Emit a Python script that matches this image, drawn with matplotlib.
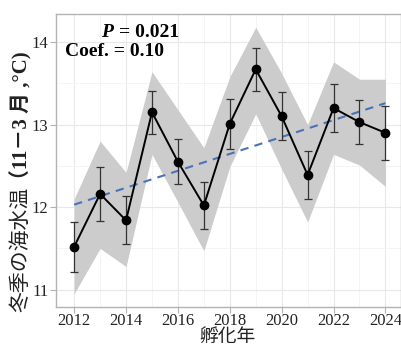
import matplotlib
matplotlib.use('Agg')
import matplotlib.pyplot as plt
import numpy as np

# Data
years = [2012, 2013, 2014, 2015, 2016, 2017, 2018, 2019, 2020, 2021, 2022, 2023, 2024]
temp_mean = [11.52, 12.16, 11.84, 13.15, 12.55, 12.02, 13.01, 13.67, 13.10, 12.39, 13.20, 13.03, 12.90]
temp_err = [0.30, 0.33, 0.29, 0.26, 0.27, 0.28, 0.30, 0.26, 0.29, 0.29, 0.29, 0.27, 0.33]
band_upper = [12.10, 12.80, 12.42, 13.64, 13.18, 12.72, 13.58, 14.18, 13.62, 13.00, 13.76, 13.55, 13.55]
band_lower = [10.95, 11.50, 11.28, 12.64, 12.06, 11.47, 12.49, 13.13, 12.46, 11.82, 12.64, 12.51, 12.25]
trend_years = [2012, 2024]
trend_vals = [12.03, 13.26]
x_ticks = [2012, 2014, 2016, 2018, 2020, 2022, 2024]
y_ticks = [11, 12, 13, 14]

serif = ['Liberation Serif', 'DejaVu Serif']
cjk = ['Noto Sans CJK JP', 'DejaVu Sans']

fig = plt.figure(figsize=(4.02, 3.47), dpi=100)
ax = fig.add_axes([56/402, 40/347, 345/402, 293/347])

ax.fill_between(years, band_lower, band_upper, color='#cccccc', lw=0, zorder=1)
ax.plot(trend_years, trend_vals, color='#4a72b8', lw=1.5, ls=(0, (4, 3)), zorder=2)
ax.errorbar(years, temp_mean, yerr=temp_err, fmt='none', ecolor='#333333',
            elinewidth=0.9, capsize=3, capthick=0.9, zorder=3)
ax.plot(years, temp_mean, color='black', lw=1.4, marker='o', markersize=6, zorder=4)

ax.set_xlim(2011.3, 2024.6)
ax.set_ylim(10.79, 14.34)
ax.set_xticks(x_ticks)
ax.set_yticks(y_ticks)
ax.set_xticks(np.arange(2013, 2024, 2), minor=True)
ax.set_yticks([11.5, 12.5, 13.5], minor=True)
ax.grid(which='major', color='#e8e8e8', lw=0.8, zorder=0)
ax.grid(which='minor', color='#f3f3f3', lw=0.6, zorder=0)
ax.set_axisbelow(True)
ax.tick_params(which='major', length=4, width=0.8, color='#b3b3b3', pad=1.5,
               labelsize=12, labelcolor='#222222')
ax.tick_params(axis='x', which='major', pad=0.3)
ax.tick_params(which='minor', length=0)
for lab in ax.get_xticklabels() + ax.get_yticklabels():
    lab.set_family(serif)
for sp in ax.spines.values():
    sp.set_color('#b3b3b3')
    sp.set_linewidth(1.0)

# x label
fig.text(228/402, 0.5/347, '孵化年', family=cjk, fontsize=13.5,
         ha='center', va='bottom', color='#222222')

# y label: CJK part plus bold parenthetical
fig.text(20/402, 1 - 312/347, '冬季の海水温', family=cjk, fontsize=15,
         rotation=90, ha='center', va='bottom', color='#222222')
fig.text(21/402, 1 - 190/347, '（11－3 月 ,°C)', family=['Liberation Serif', 'Noto Sans CJK JP'],
         fontsize=15, fontweight='bold', rotation=90, ha='center', va='bottom', color='#222222')

# statistics annotation
ax.text(2013.5, 14.12, 'P', family=serif, fontsize=14, fontweight='bold',
        style='italic', ha='right', va='center')
ax.text(2013.72, 14.12, '= 0.021', family=serif, fontsize=14, fontweight='bold',
        ha='left', va='center')
ax.text(2011.65, 13.89, 'Coef. = 0.10', family=serif, fontsize=14, fontweight='bold',
        ha='left', va='center')

fig.savefig('out.png', dpi=100)
